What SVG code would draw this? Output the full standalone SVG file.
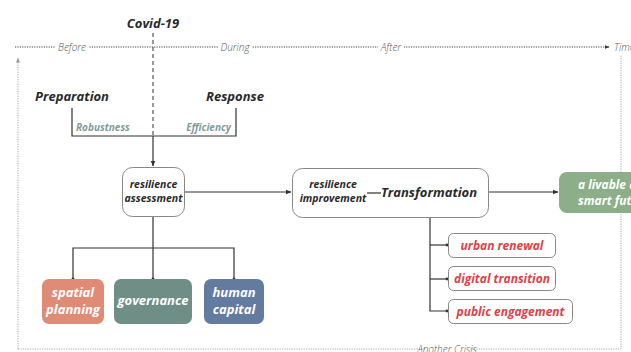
<svg xmlns="http://www.w3.org/2000/svg" width="631" height="352" viewBox="0 0 631 352">
<defs>
<marker id="ah" viewBox="0 0 10 10" refX="9" refY="5" markerWidth="5" markerHeight="5" orient="auto"><path d="M0,1 L10,5 L0,9 z" fill="#333"/></marker>
<marker id="dot" viewBox="0 0 10 10" refX="5" refY="5" markerWidth="3" markerHeight="3"><circle cx="5" cy="5" r="4" fill="#333"/></marker>
<marker id="ahg" viewBox="0 0 10 10" refX="9" refY="5" markerWidth="5" markerHeight="5" orient="auto"><path d="M0,1 L10,5 L0,9 z" fill="#999"/></marker>
</defs>
<style>
text{font-family:"Open Sans","DejaVu Sans",sans-serif;font-style:italic}
.tl{font-size:10px;fill:#555;font-weight:300}
.h{font-size:13px;font-weight:700;fill:#2a2a2a}
.lab{font-size:10px;font-weight:700;fill:#7f9c9c}
.bx{font-size:10.5px;font-weight:700;fill:#2a2a2a}
.w{font-size:13px;font-weight:700;fill:#fff}
.r{font-size:12px;font-weight:700;fill:#d9434a}
.wb{fill:#fff;stroke:#888;stroke-width:1}
.ln{stroke:#333;stroke-width:1.2;fill:none}
.dt{stroke:#888;stroke-width:1;stroke-dasharray:1.2 1.2;fill:none}
</style>
<rect width="631" height="352" fill="#fff"/>
<g id="connectors">
<line class="dt" x1="15" y1="47" x2="609" y2="47" marker-end="url(#ah)" style="stroke:#444"/>
<path class="dt" d="M18,349 L18,58" marker-end="url(#ahg)" style="stroke:#aaa"/>
<path class="dt" d="M18,349 L621,349 L621,55" style="stroke:#aaa"/>
<line x1="153" y1="33" x2="153" y2="136" stroke="#555" stroke-width="1.2" stroke-dasharray="4 3"/>
<path class="ln" d="M72,108 L72,136 L236,136 L236,108"/>
<line class="ln" x1="153" y1="136" x2="153" y2="166" marker-end="url(#ah)"/>
<line class="ln" x1="184" y1="192" x2="291" y2="192" marker-end="url(#ah)"/>
<line class="ln" x1="488" y1="192" x2="558" y2="192" marker-end="url(#ah)"/>
<line class="ln" x1="153" y1="216" x2="153" y2="279" marker-end="url(#dot)"/>
<path class="ln" d="M73,279 L73,248 L234,248 L234,279" marker-start="url(#dot)" marker-end="url(#dot)"/>
<path class="ln" d="M430,206 L430,311 L447,311" marker-end="url(#dot)"/>
<path class="ln" d="M430,245 L447,245" marker-end="url(#dot)"/>
<path class="ln" d="M430,279 L447,279" marker-end="url(#dot)"/>
</g>
<g id="timeline-labels">
<rect x="55" y="41" width="34" height="12" fill="#fff"/>
<text class="tl" x="72" y="51" text-anchor="middle">Before</text>
<rect x="218" y="41" width="34" height="12" fill="#fff"/>
<text class="tl" x="235" y="51" text-anchor="middle">During</text>
<rect x="378" y="41" width="26" height="12" fill="#fff"/>
<text class="tl" x="391" y="51" text-anchor="middle">After</text>
<text class="tl" x="614" y="51" font-size="8">Time</text>
<rect x="425" y="343" width="45" height="12" fill="#fff"/>
<text class="tl" x="447" y="353" text-anchor="middle">Another Crisis</text>
</g>
<g id="covid"><text class="h" x="153" y="28" text-anchor="middle">Covid-19</text></g>
<g id="preparation"><text class="h" x="72" y="101" text-anchor="middle">Preparation</text>
<text class="lab" x="76" y="131">Robustness</text></g>
<g id="response"><text class="h" x="235" y="101" text-anchor="middle">Response</text>
<text class="lab" x="231" y="131" text-anchor="end">Efficiency</text></g>
<g id="assessment">
<rect class="wb" x="122.5" y="167.5" width="62" height="49" rx="10"/>
<text class="bx" x="153.5" y="188" text-anchor="middle">resilience</text>
<text class="bx" x="153.5" y="202" text-anchor="middle">assessment</text>
</g>
<g id="improvement">
<rect class="wb" x="292.5" y="168.5" width="196" height="49" rx="10"/>
<text class="bx" x="333" y="188" text-anchor="middle">resilience</text>
<text class="bx" x="333" y="202" text-anchor="middle">improvement</text>
<line class="ln" x1="367" y1="193" x2="381" y2="193"/>
<text class="bx" x="429" y="197" text-anchor="middle" style="font-size:13px">Transformation</text>
</g>
<g id="future">
<rect x="559" y="172" width="90" height="41" rx="8" fill="#8cae88"/>
<text class="w" x="578" y="189" style="font-size:12px">a livable city,</text>
<text class="w" x="578" y="205" style="font-size:12px">smart future</text>
</g>
<g id="spatial">
<rect x="42" y="279" width="62" height="45" rx="7" fill="#e08b76"/>
<text class="w" x="73" y="297" text-anchor="middle">spatial</text>
<text class="w" x="73" y="314" text-anchor="middle">planning</text>
</g>
<g id="governance">
<rect x="114" y="279" width="78" height="45" rx="7" fill="#6f8e86"/>
<text class="w" x="153" y="305" text-anchor="middle">governance</text>
</g>
<g id="human">
<rect x="204" y="279" width="60" height="45" rx="7" fill="#637b9f"/>
<text class="w" x="234" y="297" text-anchor="middle">human</text>
<text class="w" x="234" y="314" text-anchor="middle">capital</text>
</g>
<g id="urban">
<rect class="wb" x="448.5" y="233.5" width="107" height="24" rx="5"/>
<text class="r" x="502" y="250" text-anchor="middle">urban renewal</text>
</g>
<g id="digital">
<rect class="wb" x="448.5" y="266.5" width="107" height="24" rx="5"/>
<text class="r" x="502" y="283" text-anchor="middle">digital transition</text>
</g>
<g id="public">
<rect class="wb" x="448.5" y="299.5" width="124" height="24" rx="5"/>
<text class="r" x="510.5" y="316" text-anchor="middle">public engagement</text>
</g>
</svg>
